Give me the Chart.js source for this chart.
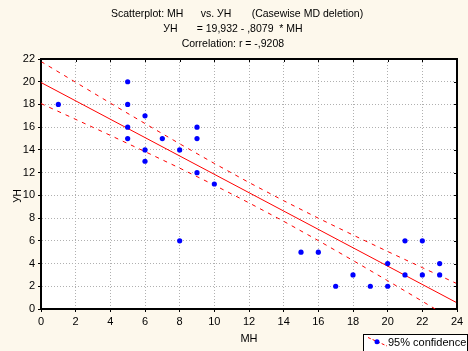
<!DOCTYPE html>
<html>
<head>
<meta charset="utf-8">
<script src="https://cdn.jsdelivr.net/npm/chart.js@4"></script>
<style>
  html, body { margin: 0; padding: 0; background: #fdf8ec; }
</style>
</head>
<body>
<canvas id="scatterChart" width="468" height="351"></canvas>
<script>
// observed cases
const mhValues = [1, 5, 5, 5, 5, 6, 6, 6, 7, 8, 8, 9, 9, 9, 10, 15, 16, 17, 18, 19, 20, 20, 21, 21, 22, 22, 23, 23];
const unValues = [18, 20, 18, 16, 15, 17, 14, 13, 15, 14, 6, 16, 15, 12, 11, 5, 5, 2, 3, 2, 4, 2, 6, 3, 6, 3, 4, 3];

// regression line  УН = 19,932 - ,8079 * MH
const fitX = [0, 24];
const fitY = [19.932, 0.542];

// 95% confidence band
const bandX = [0, 2, 4, 6, 8, 10, 12, 14, 16, 18, 20, 22, 24];
const bandUpper = [21.78, 19.95, 18.12, 16.32, 14.54, 12.81, 11.13, 9.53, 7.99, 6.51, 5.06, 3.64, 2.23];
const bandLower = [18.08, 16.69, 15.28, 13.85, 12.40, 10.90, 9.34, 7.72, 6.02, 4.27, 2.49, 0.68, -1.15];

// header text, pieces as spaced out in the original
const titleRows = [
  [['Scatterplot: MH', 111], ['vs. УН', 200.7], ['(Casewise MD deletion)', 251.7]],
  [['УН', 163.3], ['= 19,932 - ,8079  * MH', 196.7]],
  [['Correlation: r = -,9208', 181.7]]
];
const titleBaselines = [16.5, 31.8, 47.3];
const xTitle = 'MH';
const yTitle = 'УН';
const legendLabel = '95% confidence';

const FONT = 'Liberation Sans, Arial, sans-serif';

const toXY = (xs, ys) => xs.map((x, i) => ({ x: x, y: ys[i] }));

// white plotting area
const plotBg = {
  id: 'plotBg',
  beforeDraw(chart) {
    const a = chart.chartArea;
    chart.ctx.save();
    chart.ctx.fillStyle = '#fff';
    chart.ctx.fillRect(a.left, a.top, a.right - a.left, a.bottom - a.top);
    chart.ctx.restore();
  }
};

// header, top/right frame with inward ticks, y title and the legend box
const framePlugin = {
  id: 'frame',
  afterDraw(chart) {
    const ctx = chart.ctx;
    const area = chart.chartArea;
    const xs = chart.scales.x;
    const ys = chart.scales.y;
    ctx.save();
    ctx.fillStyle = '#000';
    ctx.font = '10.5px ' + FONT;
    ctx.textAlign = 'left';
    ctx.textBaseline = 'alphabetic';
    titleRows.forEach((row, i) => {
      row.forEach(piece => ctx.fillText(piece[0], piece[1], titleBaselines[i]));
    });

    ctx.strokeStyle = '#000';
    ctx.lineWidth = 2;
    ctx.beginPath();
    ctx.moveTo(area.left, area.top);
    ctx.lineTo(area.right, area.top);
    ctx.lineTo(area.right, area.bottom);
    ctx.stroke();

    ctx.lineWidth = 1;
    ctx.beginPath();
    xs.ticks.forEach(t => {
      const px = Math.round(xs.getPixelForValue(t.value)) + 0.5;
      ctx.moveTo(px, area.top);
      ctx.lineTo(px, area.top + 3);
    });
    ys.ticks.forEach(t => {
      const py = Math.round(ys.getPixelForValue(t.value)) + 0.5;
      ctx.moveTo(area.right, py);
      ctx.lineTo(area.right - 3, py);
    });
    ctx.stroke();

    // y axis title
    ctx.font = '10px ' + FONT;
    ctx.textAlign = 'center';
    ctx.textBaseline = 'middle';
    ctx.translate(18.5, 196);
    ctx.rotate(-Math.PI / 2);
    ctx.fillText(yTitle, 0, 0);
    ctx.restore();

    // legend
    ctx.save();
    ctx.fillStyle = '#fff';
    ctx.fillRect(363.5, 334.5, 104, 20);
    ctx.strokeStyle = '#000';
    ctx.lineWidth = 1;
    ctx.strokeRect(363.5, 334.5, 104, 20);
    ctx.strokeStyle = '#ff0000';
    ctx.setLineDash([3, 2]);
    ctx.beginPath();
    ctx.moveTo(368, 337.5);
    ctx.lineTo(387, 346);
    ctx.stroke();
    ctx.setLineDash([]);
    ctx.fillStyle = '#0000ff';
    ctx.beginPath();
    ctx.arc(377, 341.7, 2.5, 0, Math.PI * 2);
    ctx.fill();
    ctx.fillStyle = '#000';
    ctx.font = '11px ' + FONT;
    ctx.textAlign = 'left';
    ctx.textBaseline = 'middle';
    ctx.fillText(legendLabel, 388, 342.5);
    ctx.restore();
  }
};

const axisCommon = {
  type: 'linear',
  ticks: { stepSize: 2, color: '#000', font: { family: FONT, size: 11 }, padding: 3 },
  grid: { color: '#b0b0b0', tickColor: '#000', tickLength: 3, tickBorderDash: [] },
  border: { color: '#000', width: 2, dash: [1, 2] }
};

new Chart(document.getElementById('scatterChart').getContext('2d'), {
  type: 'scatter',
  data: {
    datasets: [
      {
        label: 'cases',
        data: toXY(mhValues, unValues),
        backgroundColor: '#0000ff',
        borderWidth: 0,
        pointRadius: 2.6,
        order: 0
      },
      {
        label: 'fit',
        type: 'line',
        data: toXY(fitX, fitY),
        borderColor: '#ff0000',
        borderWidth: 1,
        pointRadius: 0,
        fill: false,
        order: 1
      },
      {
        label: 'upper',
        type: 'line',
        data: toXY(bandX, bandUpper),
        borderColor: '#ff0000',
        borderWidth: 1,
        borderDash: [4, 5],
        pointRadius: 0,
        fill: false,
        order: 2
      },
      {
        label: 'lower',
        type: 'line',
        data: toXY(bandX, bandLower),
        borderColor: '#ff0000',
        borderWidth: 1,
        borderDash: [4, 5],
        pointRadius: 0,
        fill: false,
        order: 2
      }
    ]
  },
  options: {
    responsive: false,
    animation: false,
    layout: { padding: { left: 0, right: 11, top: 59, bottom: 0 } },
    plugins: {
      legend: { display: false },
      tooltip: { enabled: false },
      title: { display: false }
    },
    scales: {
      x: Object.assign({}, axisCommon, {
        min: 0,
        max: 24,
        title: { display: true, text: xTitle, color: '#000', font: { family: FONT, size: 11 }, padding: { top: 0, bottom: 5 } },
        afterFit: s => { s.height = 42; }
      }),
      y: Object.assign({}, axisCommon, {
        min: 0,
        max: 22,
        afterFit: s => { s.width = 41; }
      })
    }
  },
  plugins: [plotBg, framePlugin]
});
</script>
</body>
</html>
